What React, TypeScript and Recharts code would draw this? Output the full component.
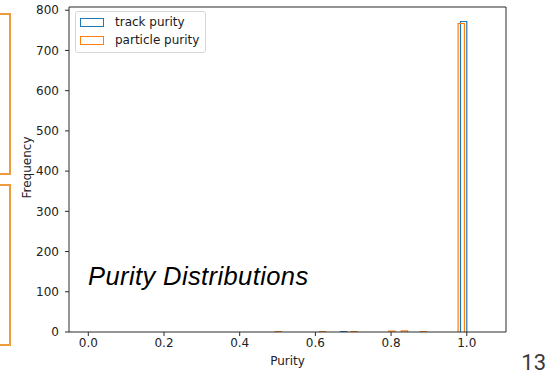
import React from 'react';
import { ComposedChart, Line, XAxis, YAxis, Legend, ReferenceLine } from 'recharts';

// Histogram bin width shared by both series
const BIN_WIDTH = 1 / 60;

// Track purity: 30 bins starting at 0.5
const trackBinStart = 0.5;
const trackCounts = [
  0, 0, 0, 0, 0, 0, 0, 0, 0, 0,
  1, 0, 0, 0, 0, 0, 0, 0, 0, 0,
  0, 0, 0, 0, 0, 0, 0, 0, 0, 772,
];

// Particle purity: 30 bins starting at 0.4937
const particleBinStart = 0.4937;
const particleCounts = [
  1, 0, 0, 0, 0, 0, 0, 1, 0, 0,
  0, 0, 1, 0, 0, 0, 0, 0, 2, 0,
  3, 0, 0, 1, 0, 0, 0, 0, 0, 767,
];

const seriesNames = ['track purity', 'particle purity'];
const xTicks = [0, 0.2, 0.4, 0.6, 0.8, 1.0];
const yTicks = [0, 100, 200, 300, 400, 500, 600, 700, 800];
const xDomain = [-0.051, 1.1036];
const yDomain = [0, 808];

const TRACK_COLOR = '#1f77b4';
const PARTICLE_COLOR = '#ff7f0e';
const AXIS_COLOR = '#2b2b2b';
const FONT = '"DejaVu Sans", sans-serif';

type Pt = { x: number; y: number | null };

// Step-histogram outline for non-empty bins; empty runs become gaps
function stepOutline(start: number, counts: number[]): Pt[] {
  const pts: Pt[] = [];
  counts.forEach((c, i) => {
    if (c === 0) return;
    const left = start + i * BIN_WIDTH;
    const right = left + BIN_WIDTH;
    const prev = i > 0 ? counts[i - 1] : 0;
    const next = i < counts.length - 1 ? counts[i + 1] : 0;
    if (prev === 0) pts.push({ x: left, y: 0 });
    pts.push({ x: left, y: c });
    if (next === 0) {
      pts.push({ x: right, y: 0 });
      pts.push({ x: right, y: null });
    }
  });
  return pts;
}

const trackData = stepOutline(trackBinStart, trackCounts);
const particleData = stepOutline(particleBinStart, particleCounts);

function LegendBox(props: any) {
  const payload = ((props.payload || []) as any[])
    .slice()
    .sort((a, b) => seriesNames.indexOf(a.value) - seriesNames.indexOf(b.value));
  return (
    <div
      style={{
        position: 'relative',
        width: 129,
        height: 40,
        border: '1px solid #d6d6d6',
        borderRadius: 3,
        background: 'rgba(255,255,255,0.8)',
        fontFamily: FONT,
        fontSize: 12,
        color: '#1a1a1a',
      }}
    >
      {payload.map((p, i) => (
        <div key={p.value} style={{ position: 'absolute', left: 0, top: 6 + i * 18, height: 10, width: 129 }}>
          <div
            style={{
              position: 'absolute',
              left: 4,
              top: 0,
              width: 22,
              height: 7,
              border: `1.3px solid ${p.color}`,
            }}
          />
          <div style={{ position: 'absolute', left: 39, top: -4, whiteSpace: 'nowrap', lineHeight: '16px' }}>
            {p.value}
          </div>
        </div>
      ))}
    </div>
  );
}

export default function App() {
  return (
    <div
      style={{
        position: 'absolute',
        left: 0,
        top: 0,
        width: 548,
        height: 374,
        overflow: 'hidden',
        background: '#ffffff',
      }}
    >
      {/* slide frames on the left edge */}
      <div
        style={{
          position: 'absolute',
          left: -20,
          top: 13,
          width: 27,
          height: 158,
          border: '2px solid #ef9a3c',
        }}
      />
      <div
        style={{
          position: 'absolute',
          left: -20,
          top: 184,
          width: 27,
          height: 158,
          border: '2px solid #ef9a3c',
        }}
      />

      <ComposedChart
        width={548}
        height={374}
        margin={{ top: 7, right: 42, bottom: 0, left: 0 }}
      >
        <XAxis
          dataKey="x"
          type="number"
          domain={xDomain}
          allowDataOverflow
          ticks={xTicks}
          tickFormatter={(v: number) => v.toFixed(1)}
          height={42}
          tickSize={4}
          tickMargin={2}
          axisLine={{ stroke: AXIS_COLOR, strokeWidth: 1 }}
          tickLine={{ stroke: AXIS_COLOR, strokeWidth: 1 }}
          tick={{ fill: '#222', fontSize: 12, fontFamily: FONT }}
          label={{
            value: 'Purity',
            position: 'insideBottom',
            offset: 9,
            fill: '#222',
            fontSize: 12,
            fontFamily: FONT,
          }}
        />
        <YAxis
          type="number"
          domain={yDomain}
          allowDataOverflow
          ticks={yTicks}
          width={69}
          tickSize={4}
          tickMargin={6}
          axisLine={{ stroke: AXIS_COLOR, strokeWidth: 1 }}
          tickLine={{ stroke: AXIS_COLOR, strokeWidth: 1 }}
          tick={{ fill: '#222', fontSize: 12, fontFamily: FONT }}
          label={{
            content: (p: any) => {
              const vb = p.viewBox || { x: 0, y: 0, width: 0, height: 0 };
              const cx = 27;
              const cy = vb.y + vb.height / 2 - 2;
              return (
                <text
                  x={cx}
                  y={cy}
                  transform={`rotate(-90 ${cx} ${cy})`}
                  textAnchor="middle"
                  dominantBaseline="central"
                  fill="#222"
                  fontSize={12}
                  fontFamily={FONT}
                >
                  Frequency
                </text>
              );
            },
          }}
        />
        {/* top and right frame edges */}
        <ReferenceLine y={yDomain[1]} stroke={AXIS_COLOR} strokeWidth={1} />
        <ReferenceLine x={xDomain[1]} stroke={AXIS_COLOR} strokeWidth={1} />
        <Legend
          layout="horizontal"
          verticalAlign="middle"
          align="center"
          content={<LegendBox />}
          wrapperStyle={{ position: 'absolute', left: 75, top: 11, width: 131, height: 42 }}
        />
        <Line
          data={trackData}
          dataKey="y"
          name="track purity"
          type="stepAfter"
          stroke={TRACK_COLOR}
          strokeWidth={1.2}
          dot={false}
          activeDot={false}
          connectNulls={false}
          isAnimationActive={false}
          legendType="rect"
        />
        <Line
          data={particleData}
          dataKey="y"
          name="particle purity"
          type="stepAfter"
          stroke={PARTICLE_COLOR}
          strokeWidth={1.2}
          dot={false}
          activeDot={false}
          connectNulls={false}
          isAnimationActive={false}
          legendType="rect"
        />
      </ComposedChart>

      <svg
        width={548}
        height={374}
        style={{ position: 'absolute', left: 0, top: 0, pointerEvents: 'none' }}
      >
        <text
          x={88}
          y={285}
          fontFamily='"Liberation Sans", Arial, sans-serif'
          fontStyle="italic"
          fontSize={25.5}
          letterSpacing={0.4}
          fill="#000"
        >
          Purity Distributions
        </text>
        <text
          x={546}
          y={370}
          textAnchor="end"
          fontFamily="Roboto, sans-serif"
          fontSize={22}
          fill="#3a3a3a"
        >
          13
        </text>
      </svg>
    </div>
  );
}
